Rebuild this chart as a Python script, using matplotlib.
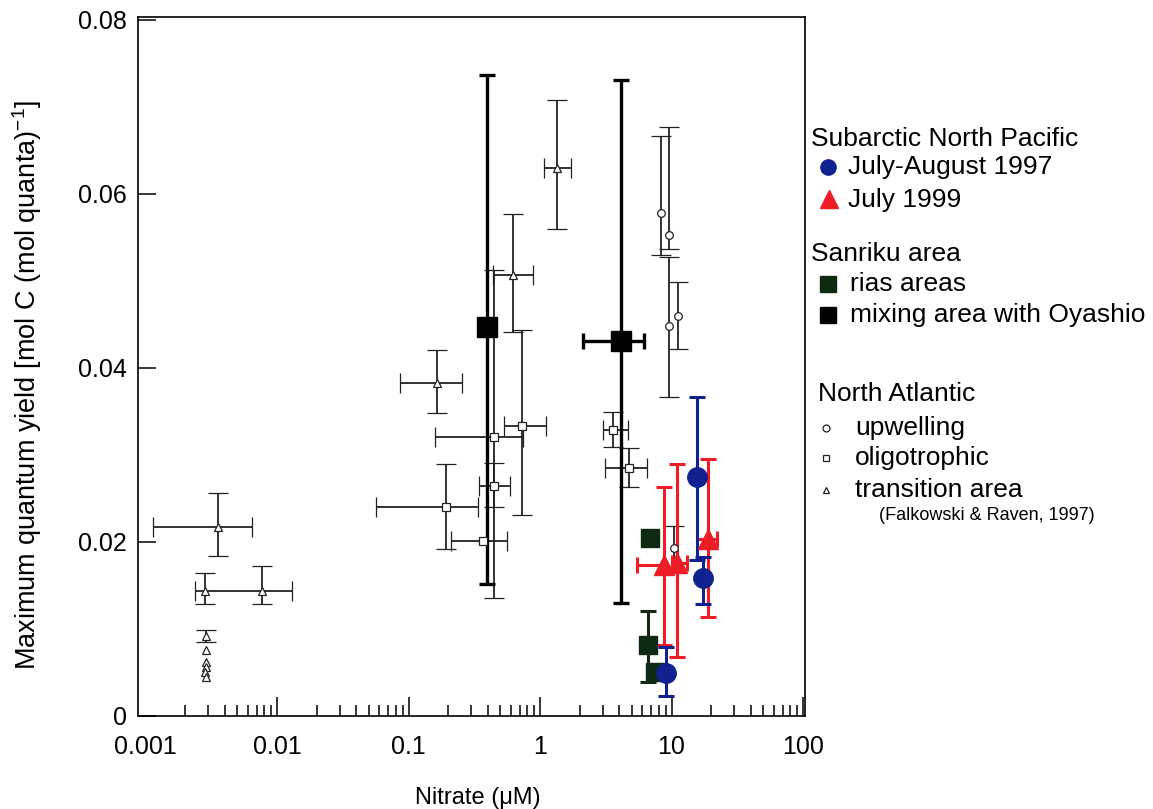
import numpy as np
import matplotlib
matplotlib.use("Agg")
import matplotlib.pyplot as plt
from matplotlib.lines import Line2D
from matplotlib.ticker import FixedLocator, FuncFormatter, NullFormatter

plt.rcParams["font.family"] = ["Liberation Sans", "DejaVu Sans"]
plt.rcParams["mathtext.fontset"] = "custom"
plt.rcParams["mathtext.rm"] = "Liberation Sans"
plt.rcParams["mathtext.default"] = "regular"

nan = np.nan

# North Atlantic, transition area (Falkowski & Raven, 1997)
trans_x = [0.00356, 0.00283, 0.00769, 0.0029, 0.0029, 0.00287, 0.0029, 0.00285, 0.0029, 0.165, 0.623, 1.35]
trans_y = [0.0217, 0.01437, 0.01437, 0.0092, 0.00759, 0.00621, 0.00563, 0.00506, 0.00448, 0.0383, 0.0507, 0.0630]
trans_xlo = [0.00114, nan, 0.00238, nan, nan, nan, nan, nan, nan, 0.0861, 0.439, 1.07]
trans_xhi = [0.00646, nan, 0.0130, nan, nan, nan, nan, nan, nan, 0.255, 0.885, 1.72]
trans_ylo = [0.0184, 0.01287, 0.01287, 0.00851, nan, nan, nan, nan, nan, 0.0348, 0.0441, 0.0559]
trans_yhi = [0.0256, 0.01644, 0.01724, 0.00989, nan, nan, nan, nan, nan, 0.0421, 0.0577, 0.0708]

# North Atlantic, oligotrophic
olig_x = [0.447, 0.447, 0.193, 0.369, 0.730, 3.59, 4.75]
olig_y = [0.0321, 0.0264, 0.0240, 0.0201, 0.0333, 0.0329, 0.0285]
olig_xlo = [0.159, 0.344, 0.0566, 0.211, 0.532, 3.01, 3.12]
olig_xhi = [0.743, 0.591, 0.338, 0.561, 1.11, 4.67, 6.51]
olig_ylo = [0.0136, 0.0240, 0.0192, nan, 0.0231, 0.0309, 0.0263]
olig_yhi = [0.0512, 0.0291, 0.0290, nan, 0.0443, 0.0349, 0.0308]

# North Atlantic, upwelling
upw_x = [8.32, 9.57, 9.57, 11.2, 10.4]
upw_y = [0.0578, 0.0552, 0.0448, 0.0459, 0.0193]
upw_ylo = [0.0530, 0.0536, 0.0366, 0.0422, 0.0168]
upw_yhi = [0.0666, 0.0677, 0.0527, 0.0498, 0.0218]

# Sanriku, mixing area with Oyashio
mix_x = [0.395, 4.13]
mix_y = [0.0447, 0.0431]
mix_xlo = [nan, 2.12]
mix_xhi = [nan, 6.18]
mix_ylo = [0.0152, 0.0130]
mix_yhi = [0.0736, 0.0731]

# Sanriku, rias areas
rias_x = [6.87, 6.63, 7.49]
rias_y = [0.0205, 0.0082, 0.0051]
rias_ylo = [nan, 0.0039, nan]
rias_yhi = [nan, 0.0121, nan]

# Subarctic North Pacific, July 1999
j99_x = [8.77, 11.0, 18.9]
j99_y = [0.0174, 0.0176, 0.0203]
j99_xlo = [5.47, 10.0, 15.6]
j99_xhi = [8.77, 13.1, 22.2]
j99_ylo = [0.0082, 0.0068, 0.0114]
j99_yhi = [0.0263, 0.0289, 0.0295]

# Subarctic North Pacific, July-August 1997
ja97_x = [15.6, 17.4, 9.08]
ja97_y = [0.0275, 0.0158, 0.0049]
ja97_ylo = [0.0179, 0.0129, 0.0023]
ja97_yhi = [0.0367, 0.0183, 0.0079]

x_labels = [0.001, 0.01, 0.1, 1, 10, 100]
y_ticks = [0, 0.02, 0.04, 0.06, 0.08]

BLUE = "#0f2290"
RED = "#ee1c24"
GREEN = "#0e2a10"


def err(v, lo, hi):
    v = np.asarray(v, float)
    return np.vstack([v - np.asarray(lo, float), np.asarray(hi, float) - v])


fig = plt.figure(figsize=(11.53, 8.09), dpi=100)
ax = fig.add_axes([0.1197, 0.115, 0.5785, 0.864])

thin = dict(ecolor="#222222", elinewidth=1.3, capsize=7, capthick=1.3, ls="none",
            mfc="white", mec="#222222", mew=0.9, ms=5.5)
ax.errorbar(trans_x, trans_y, xerr=err(trans_x, trans_xlo, trans_xhi),
            yerr=err(trans_y, trans_ylo, trans_yhi), marker="^", **thin)
ax.errorbar(olig_x, olig_y, xerr=err(olig_x, olig_xlo, olig_xhi),
            yerr=err(olig_y, olig_ylo, olig_yhi), marker="s", **thin)
ax.errorbar(upw_x, upw_y, yerr=err(upw_y, upw_ylo, upw_yhi), marker="o", **thin)

ax.errorbar(mix_x, mix_y, xerr=err(mix_x, mix_xlo, mix_xhi),
            yerr=err(mix_y, mix_ylo, mix_yhi), marker="s", ms=14, color="black",
            ecolor="black", elinewidth=2.4, capsize=5.5, capthick=2.4, ls="none")
ax.errorbar(rias_x, rias_y, yerr=err(rias_y, rias_ylo, rias_yhi), marker="s", ms=12.5,
            color=GREEN, ecolor=GREEN, elinewidth=2.2, capsize=5.5, capthick=2.2, ls="none")
ax.errorbar(j99_x, j99_y, xerr=err(j99_x, j99_xlo, j99_xhi),
            yerr=err(j99_y, j99_ylo, j99_yhi), marker="^", ms=15, color=RED,
            ecolor=RED, elinewidth=2.2, capsize=5.5, capthick=2.2, ls="none")
ax.errorbar(ja97_x, ja97_y, yerr=err(ja97_y, ja97_ylo, ja97_yhi), marker="o", ms=14,
            color=BLUE, ecolor=BLUE, elinewidth=2.2, capsize=5.5, capthick=2.2, ls="none")

ax.set_xscale("log")
ax.set_xlim(0.000877, 103.5)
ax.set_ylim(0, 0.0803)
ax.xaxis.set_major_locator(FixedLocator(x_labels))
minor = [m * d for d in x_labels[:-1] for m in range(2, 10)]
ax.xaxis.set_minor_locator(FixedLocator(minor))
ax.xaxis.set_minor_formatter(NullFormatter())
ax.xaxis.set_major_formatter(FuncFormatter(lambda v, p: f"{v:g}"))
ax.yaxis.set_major_locator(FixedLocator(y_ticks))
ax.yaxis.set_major_formatter(FuncFormatter(lambda v, p: f"{v:g}"))

ax.tick_params(axis="x", which="major", direction="in", length=14, width=1.1,
               labelsize=18, pad=14)
ax.tick_params(axis="x", which="minor", direction="in", length=8, width=1.1)
ax.tick_params(axis="y", which="major", direction="in", length=13, width=1.1,
               labelsize=18, pad=8)
ax.xaxis.get_major_ticks()[0].tick1line.set_visible(False)
for s in ax.spines.values():
    s.set_linewidth(1.2)

ax.set_ylabel("Maximum quantum yield [mol C (mol quanta)$^{-1}$]", fontsize=19.5)
ax.yaxis.set_label_coords(-0.141, 0.474)
ax.set_xlabel("Nitrate (μM)", fontsize=17)
ax.xaxis.set_label_coords(0.51, -0.101)

# legend, drawn by hand to keep the grouped layout
W, H = 1153.0, 809.0


def ftext(x, y, s, size=19):
    fig.text(x / W, 1 - y / H, s, fontsize=size, va="center", ha="left")


def fmark(x, y, **kw):
    fig.add_artist(Line2D([x / W], [1 - y / H], transform=fig.transFigure, ls="none", **kw))


ftext(811, 139, "Subarctic North Pacific")
fmark(828, 167, marker="o", ms=11, color=BLUE)
ftext(848, 167, "July-August 1997")
fmark(829, 199, marker="^", ms=13, color=RED)
ftext(848, 200, "July 1999")
ftext(811, 254, "Sanriku area")
fmark(828, 284, marker="s", ms=11, color=GREEN)
ftext(850, 284, "rias areas")
fmark(828, 315, marker="s", ms=11, color="black")
ftext(850, 315, "mixing area with Oyashio")
ftext(818, 394, "North Atlantic")
fmark(826, 428, marker="o", ms=5, mfc="white", mec="#222222", mew=0.9)
ftext(855, 428, "upwelling")
fmark(826, 458, marker="s", ms=5, mfc="white", mec="#222222", mew=0.9)
ftext(855, 458, "oligotrophic")
fmark(826, 490, marker="^", ms=5, mfc="white", mec="#222222", mew=0.9)
ftext(855, 490, "transition area")
ftext(879, 516, "(Falkowski & Raven, 1997)", size=13)

fig.savefig("out.png", dpi=100)
